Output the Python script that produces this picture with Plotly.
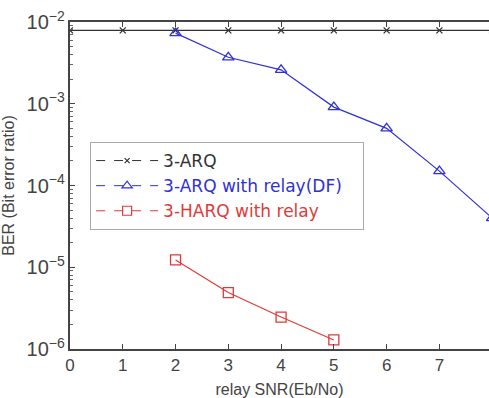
import plotly.graph_objects as go

snr_arq = [0, 1, 2, 3, 4, 5, 6, 7, 8]
ber_arq = [7.9e-3] * 9

snr_df = [2, 3, 4, 5, 6, 7, 8]
ber_df = [7.3e-3, 3.7e-3, 2.6e-3, 9.1e-4, 5.0e-4, 1.5e-4, 4.0e-5]

snr_harq = [2, 3, 4, 5]
ber_harq = [1.23e-5, 4.9e-6, 2.46e-6, 1.29e-6]

names = ["3-ARQ", "3-ARQ with relay(DF)", "3-HARQ with relay"]
colors = ["#333333", "#3030d8", "#e03a3a"]
symbols = ["x-thin-open", "triangle-up-open", "square-open"]
sizes = [6, 10, 10]

fig = go.Figure()
for x, y, c, s, sz in [(snr_arq, ber_arq, colors[0], symbols[0], sizes[0]),
                       (snr_df, ber_df, colors[1], symbols[1], sizes[1]),
                       (snr_harq, ber_harq, colors[2], symbols[2], sizes[2])]:
    fig.add_trace(go.Scatter(x=x, y=y, mode="lines+markers",
                             line=dict(color=c, width=1.2),
                             marker=dict(symbol=s, size=sz, color=c, line=dict(color=c, width=1.3)),
                             showlegend=False, cliponaxis=True))

# legend entries (dashed style as in the original legend)
for n, c, s, sz in zip(names, colors, symbols, sizes):
    fig.add_trace(go.Scatter(x=[None], y=[None], mode="lines+markers",
                             name=f"<span style='color:{c}'>{n}</span>&nbsp;&nbsp;&nbsp;",
                             line=dict(color=c, width=1, dash="dash"),
                             marker=dict(symbol=s, size=sz - 1, color=c, line=dict(color=c, width=1.2))))

fig.update_layout(
    width=489, height=398,
    margin=dict(l=70, r=0, t=22, b=49),
    plot_bgcolor="white", paper_bgcolor="white",
    font=dict(family="Liberation Sans, Arial, sans-serif", color="#333333"),
    legend=dict(x=0.048, y=0.633, xanchor="left", yanchor="top",
                bgcolor="white", bordercolor="#aaaaaa", borderwidth=1,
                font=dict(family="DejaVu Sans, sans-serif", size=17), itemwidth=62, tracegroupgap=0),
)
fig.update_xaxes(range=[0, 7.94], tickvals=[0, 1, 2, 3, 4, 5, 6, 7],
                 automargin=False,
                 showline=True, linecolor="#444444", linewidth=2, mirror="allticks",
                 ticks="inside", ticklen=5, tickcolor="#444444",
                 showgrid=False, zeroline=False,
                 tickfont=dict(size=17, color="#444444"),
                 title=dict(text="relay SNR(Eb/No)", font=dict(size=16, color="#444444")))
fig.update_yaxes(type="log", range=[-6, -2], dtick=1, exponentformat="power",
                 automargin=False,
                 showline=True, linecolor="#444444", linewidth=2,
                 ticks="inside", ticklen=5, tickcolor="#444444",
                 minor=dict(ticks="inside", ticklen=3, tickcolor="#666666"),
                 showgrid=False, zeroline=False,
                 tickfont=dict(size=16, color="#444444"),
                 title=dict(text="BER (Bit error ratio)", font=dict(size=16, color="#444444")))

fig.write_html("out.html", config={"displayModeBar": False},
               post_script="document.body.style.margin='0';")
